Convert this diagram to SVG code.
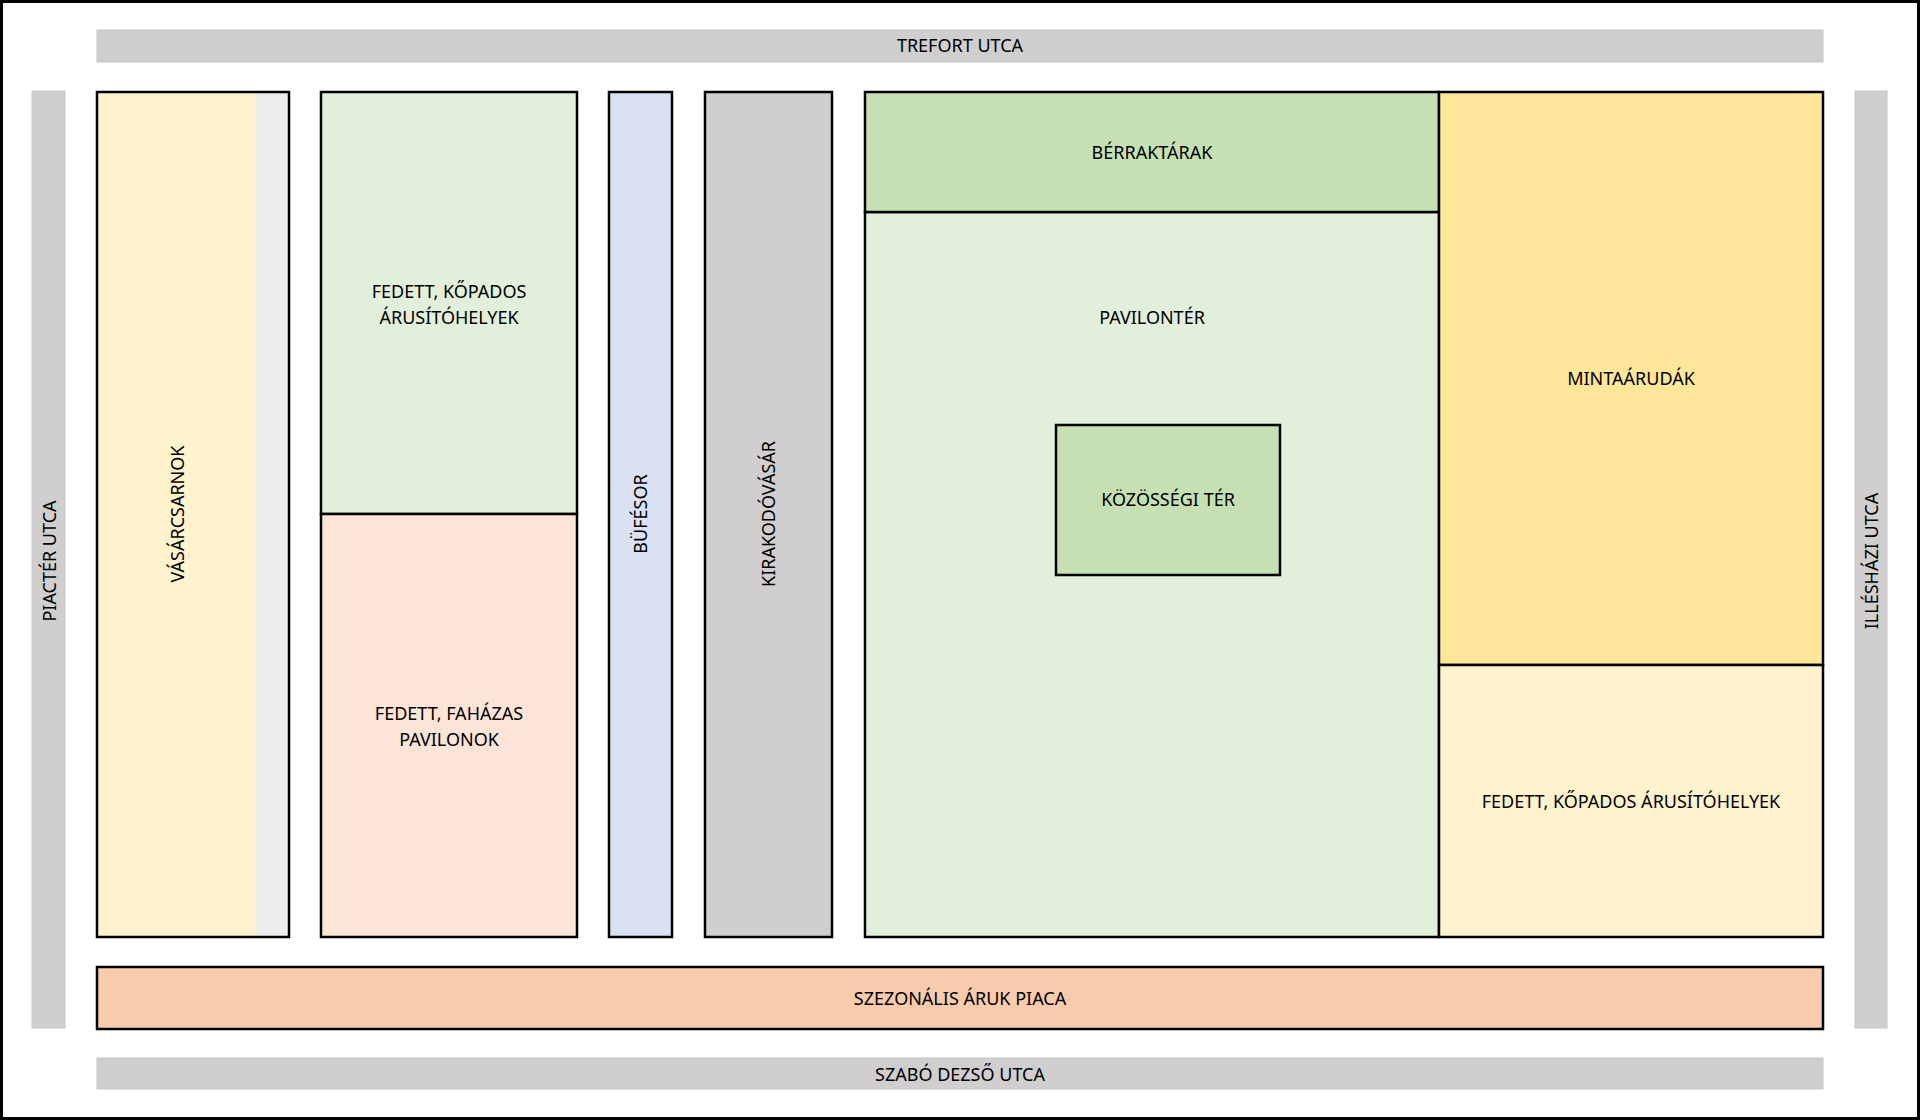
<svg xmlns="http://www.w3.org/2000/svg" width="1920" height="1120" viewBox="0 0 1920 1120">
<style>
text{font-family:"Noto Sans","Open Sans","DejaVu Sans",sans-serif;font-size:18px;fill:#000;text-anchor:middle}
.road{fill:#D0CECE;stroke:#C8C6C6;stroke-width:1}
.box{stroke:#000;stroke-width:2.5}
.nost{stroke:none}
</style>
<rect x="1.5" y="1.5" width="1917" height="1117" fill="#fff" stroke="#000" stroke-width="3"/>
<g id="roads">
<g id="trefort"><rect class="road" x="97" y="30" width="1726" height="32"/><text x="960" y="52">TREFORT UTCA</text></g>
<g id="piacter"><rect class="road" x="32" y="91" width="33" height="937"/><text transform="translate(56,561) rotate(-90)">PIACTÉR UTCA</text></g>
<g id="illeshazi"><rect class="road" x="1855" y="91" width="32" height="937"/><text transform="translate(1878,561) rotate(-90)">ILLÉSHÁZI UTCA</text></g>
<g id="szabo"><rect class="road" x="97" y="1058" width="1726" height="31"/><text x="960" y="1081">SZABÓ DEZSŐ UTCA</text></g>
</g>
<g id="vasarcsarnok">
<rect class="nost" x="97" y="92" width="159" height="845" fill="#FFF2CC"/>
<rect class="nost" x="256" y="92" width="33" height="845" fill="#EDEDED"/>
<rect class="box" x="97" y="92" width="192" height="845" fill="none"/>
<text transform="translate(184,514) rotate(-90)">VÁSÁRCSARNOK</text>
</g>
<g id="fedett-kopados-bal">
<rect class="box" x="321" y="92" width="256" height="422" fill="#E2EFDA"/>
<text x="449" y="298">FEDETT, KŐPADOS</text>
<text x="449" y="324">ÁRUSÍTÓHELYEK</text>
</g>
<g id="fedett-fahazas">
<rect class="box" x="321" y="514" width="256" height="423" fill="#FCE4D6"/>
<text x="449" y="720">FEDETT, FAHÁZAS</text>
<text x="449" y="746">PAVILONOK</text>
</g>
<g id="bufesor">
<rect class="box" x="609" y="92" width="63" height="845" fill="#D9E1F2"/>
<text transform="translate(647,514) rotate(-90)">BÜFÉSOR</text>
</g>
<g id="kirakodovasar">
<rect class="box" x="705" y="92" width="127" height="845" fill="#D0CECE"/>
<text transform="translate(775,514) rotate(-90)">KIRAKODÓVÁSÁR</text>
</g>
<g id="pavilonter">
<rect class="box" x="865" y="212" width="574" height="725" fill="#E2EFDA"/>
<text x="1152" y="324">PAVILONTÉR</text>
</g>
<g id="berraktarak">
<rect class="box" x="865" y="92" width="574" height="120" fill="#C6E0B4"/>
<text x="1152" y="159">BÉRRAKTÁRAK</text>
</g>
<g id="kozossegi-ter">
<rect class="box" x="1056" y="425" width="224" height="150" fill="#C6E0B4"/>
<text x="1168" y="506">KÖZÖSSÉGI TÉR</text>
</g>
<g id="mintaarudak">
<rect class="box" x="1439" y="92" width="384" height="573" fill="#FFE699"/>
<text x="1631" y="385">MINTAÁRUDÁK</text>
</g>
<g id="fedett-kopados-jobb">
<rect class="box" x="1439" y="665" width="384" height="272" fill="#FFF2CC"/>
<text x="1631" y="808">FEDETT, KŐPADOS ÁRUSÍTÓHELYEK</text>
</g>
<g id="szezonalis">
<rect class="box" x="97" y="967" width="1726" height="62" fill="#F8CBAD"/>
<text x="960" y="1005">SZEZONÁLIS ÁRUK PIACA</text>
</g>
<g id="connectors"/>
</svg>
